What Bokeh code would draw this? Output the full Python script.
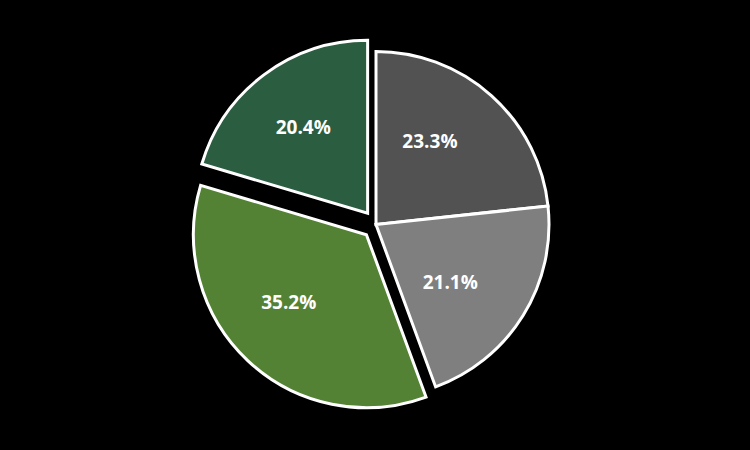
import math
from bokeh.plotting import figure
from bokeh.models import Range1d, ColumnDataSource
from bokeh.embed import file_html
from bokeh.resources import INLINE
from bokeh.core.properties import value

# ---- data ----
labels = ["23.3%", "21.1%", "35.2%", "20.4%"]
shares = [23.3, 21.1, 35.2, 20.4]

# ---- style ----
colors = ["#525252", "#7f7f7f", "#548235", "#2b5e41"]
explode_px = [0, 0, 14, 14]
label_nudge_deg = [-9, 6, 6, 0]
label_frac = [0.58, 0.55, 0.60, 0.63]

W, H = 750, 450
cx, cy = 375.5, H - 224.0
R = 173

total = sum(shares)
xs, ys, starts, ends, lx, ly = [], [], [], [], [], []
acc = 0.0
for i, s in enumerate(shares):
    t1 = acc / total * 360.0
    acc += s
    t2 = acc / total * 360.0
    mid = math.radians((t1 + t2) / 2)
    ax = cx + explode_px[i] * math.sin(mid)
    ay = cy + explode_px[i] * math.cos(mid)
    xs.append(ax)
    ys.append(ay)
    starts.append(math.radians(90 - t1))
    ends.append(math.radians(90 - t2))
    la = mid + math.radians(label_nudge_deg[i])
    lx.append(ax + label_frac[i] * 171 * math.sin(la))
    ly.append(ay + label_frac[i] * 171 * math.cos(la))

src = ColumnDataSource(dict(x=xs, y=ys, start=starts, end=ends, color=colors,
                            lx=lx, ly=ly, label=labels))

p = figure(width=W, height=H, x_range=Range1d(0, W), y_range=Range1d(0, H),
           output_backend="svg", toolbar_location=None, min_border=0,
           x_axis_type=None, y_axis_type=None,
           background_fill_color="black", border_fill_color="black",
           outline_line_color=None)
p.grid.visible = False

p.wedge(x="x", y="y", radius=R, radius_units="screen", start_angle="start",
        end_angle="end", direction="clock", fill_color="color",
        line_color="white", line_width=3, line_join="miter", source=src)

p.text(x="lx", y="ly", text="label", source=src, text_color="white",
       text_font=value("Open Sans"), text_font_style="bold",
       text_font_size="19px", text_align="center", text_baseline="middle")

html = file_html(p, INLINE)
html = html.replace("</head>", "<style>body{background:#000000;}</style></head>", 1)
open("out.html", "w").write(html)
